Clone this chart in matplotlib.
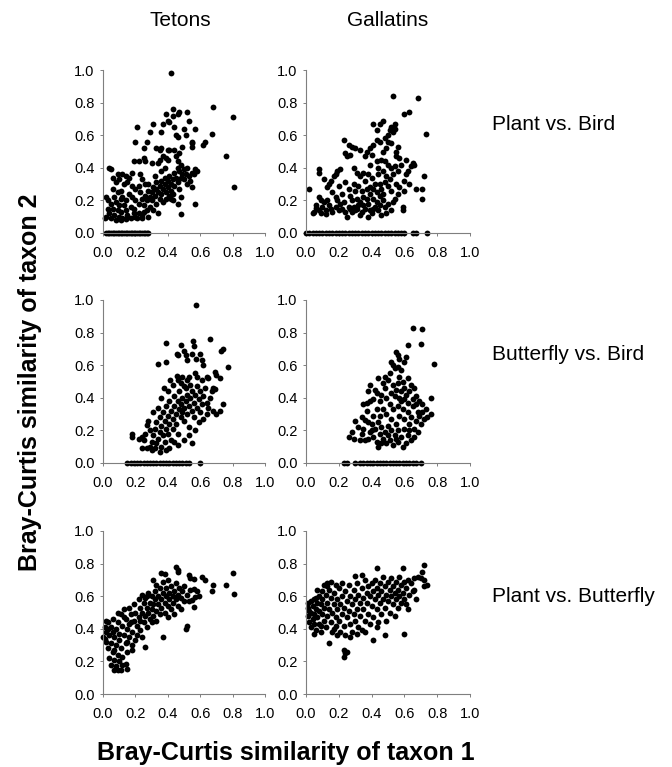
import matplotlib

matplotlib.use("Agg")
import matplotlib.pyplot as plt

plt.rcParams["font.family"] = ["Liberation Sans", "DejaVu Sans"]

COLUMNS = ["Tetons", "Gallatins"]
ROWS = ["Plant vs. Bird", "Butterfly vs. Bird", "Plant vs. Butterfly"]
TICKS = [0.0, 0.2, 0.4, 0.6, 0.8, 1.0]

# (taxon 1 similarity, taxon 2 similarity) pairs
TETONS_PLANT_BIRD = [
    (0.42, 0.98), (0.68, 0.77), (0.80, 0.71), (0.76, 0.475), (0.81, 0.28), (0.67, 0.61),
    (0.63, 0.56), (0.62, 0.54), (0.57, 0.64), (0.55, 0.55), (0.55, 0.53), (0.52, 0.74),
    (0.53, 0.69), (0.47, 0.74), (0.43, 0.76), (0.43, 0.72), (0.37, 0.67), (0.41, 0.68),
    (0.40, 0.69), (0.31, 0.67), (0.36, 0.62), (0.21, 0.65), (0.29, 0.62), (0.20, 0.56),
    (0.27, 0.56), (0.25, 0.52), (0.33, 0.52), (0.35, 0.51), (0.36, 0.52), (0.40, 0.51),
    (0.41, 0.51), (0.44, 0.65), (0.45, 0.60), (0.46, 0.59), (0.50, 0.64), (0.51, 0.60),
    (0.44, 0.51), (0.45, 0.47), (0.46, 0.44), (0.47, 0.49), (0.35, 0.45), (0.37, 0.47),
    (0.39, 0.46), (0.40, 0.45), (0.25, 0.46), (0.26, 0.44), (0.19, 0.44), (0.22, 0.44),
    (0.30, 0.43), (0.56, 0.36), (0.57, 0.39), (0.55, 0.37), (0.53, 0.35), (0.51, 0.36),
    (0.54, 0.32), (0.55, 0.28), (0.52, 0.30), (0.57, 0.18), (0.48, 0.22), (0.46, 0.18),
    (0.48, 0.115), (0.42, 0.21), (0.43, 0.20), (0.46, 0.73), (0.39, 0.73), (0.49, 0.53),
    (0.55, 0.56), (0.58, 0.38),
    (0.04, 0.40), (0.05, 0.39), (0.02, 0.22), (0.01, 0.09), (0.12, 0.36), (0.14, 0.35),
    (0.16, 0.34), (0.18, 0.37), (0.08, 0.31), (0.10, 0.33), (0.13, 0.30), (0.15, 0.31),
    (0.06, 0.27), (0.09, 0.25), (0.11, 0.26), (0.07, 0.22), (0.12, 0.22), (0.14, 0.20),
    (0.16, 0.24), (0.18, 0.22), (0.20, 0.20), (0.05, 0.18), (0.08, 0.19), (0.10, 0.17),
    (0.13, 0.17), (0.03, 0.15), (0.06, 0.15), (0.09, 0.14), (0.11, 0.13), (0.14, 0.14),
    (0.17, 0.16), (0.19, 0.15), (0.04, 0.12), (0.07, 0.11), (0.10, 0.10), (0.12, 0.09),
    (0.15, 0.11), (0.02, 0.10), (0.05, 0.09), (0.08, 0.08), (0.11, 0.08), (0.14, 0.085),
    (0.17, 0.09), (0.20, 0.10), (0.22, 0.12), (0.21, 0.09), (0.24, 0.09), (0.25, 0.13),
    (0.06, 0.34), (0.09, 0.36), (0.03, 0.20), (0.11, 0.21),
    (0.22, 0.18), (0.24, 0.21), (0.23, 0.25), (0.25, 0.17), (0.26, 0.23), (0.27, 0.20),
    (0.28, 0.26), (0.29, 0.22), (0.30, 0.25), (0.28, 0.30), (0.31, 0.28), (0.32, 0.23),
    (0.33, 0.27), (0.33, 0.31), (0.34, 0.25), (0.35, 0.29), (0.36, 0.24), (0.36, 0.32),
    (0.37, 0.27), (0.38, 0.30), (0.38, 0.34), (0.39, 0.25), (0.40, 0.32), (0.40, 0.28),
    (0.41, 0.35), (0.42, 0.30), (0.42, 0.26), (0.43, 0.33), (0.44, 0.37), (0.44, 0.29),
    (0.45, 0.34), (0.46, 0.31), (0.47, 0.38), (0.47, 0.27), (0.48, 0.34), (0.49, 0.36),
    (0.50, 0.33), (0.50, 0.39), (0.32, 0.35), (0.30, 0.20), (0.29, 0.16), (0.31, 0.14),
    (0.33, 0.18), (0.27, 0.14), (0.26, 0.30), (0.24, 0.33), (0.22, 0.29), (0.20, 0.27),
    (0.18, 0.29), (0.23, 0.36), (0.35, 0.21), (0.37, 0.19), (0.39, 0.21), (0.41, 0.23),
    (0.43, 0.24), (0.34, 0.12), (0.24, 0.11), (0.19, 0.12), (0.28, 0.10), (0.36, 0.38),
    (0.38, 0.40), (0.46, 0.40), (0.48, 0.42), (0.52, 0.40), (0.34, 0.43),
]
TETONS_PLANT_BIRD_ZERO = [
    0.02, 0.03, 0.04, 0.05, 0.06, 0.07, 0.08, 0.09, 0.10, 0.11, 0.12, 0.13, 0.14, 0.15,
    0.16, 0.17, 0.18, 0.19, 0.20, 0.21, 0.22, 0.23, 0.24, 0.25, 0.26, 0.27, 0.28,
]

GALLATINS_PLANT_BIRD = [
    (0.53, 0.84), (0.68, 0.83), (0.60, 0.73), (0.63, 0.74), (0.73, 0.61), (0.72, 0.35),
    (0.71, 0.27), (0.67, 0.27), (0.71, 0.21), (0.64, 0.41), (0.65, 0.43), (0.61, 0.45),
    (0.60, 0.32), (0.60, 0.26), (0.59, 0.16), (0.59, 0.14), (0.54, 0.67), (0.52, 0.65),
    (0.54, 0.64), (0.51, 0.63), (0.50, 0.60), (0.47, 0.69), (0.45, 0.67), (0.41, 0.67),
    (0.43, 0.63), (0.48, 0.58), (0.50, 0.56), (0.49, 0.52), (0.47, 0.50), (0.43, 0.57),
    (0.41, 0.54), (0.39, 0.52), (0.37, 0.50), (0.36, 0.47), (0.23, 0.57), (0.26, 0.54),
    (0.28, 0.53), (0.30, 0.52), (0.33, 0.51), (0.24, 0.49), (0.25, 0.47), (0.27, 0.48),
    (0.40, 0.48), (0.43, 0.44), (0.44, 0.40), (0.39, 0.42), (0.55, 0.47), (0.58, 0.42),
    (0.56, 0.38), (0.54, 0.41), (0.53, 0.36), (0.46, 0.45), (0.48, 0.44), (0.50, 0.42),
    (0.52, 0.40), (0.44, 0.36), (0.47, 0.38), (0.49, 0.35), (0.51, 0.33), (0.55, 0.30),
    (0.57, 0.28), (0.56, 0.24), (0.54, 0.21), (0.52, 0.26), (0.50, 0.29), (0.48, 0.31),
    (0.46, 0.27), (0.45, 0.23), (0.42, 0.30), (0.40, 0.34), (0.38, 0.36), (0.36, 0.32),
    (0.35, 0.37), (0.33, 0.35), (0.31, 0.37), (0.29, 0.40), (0.32, 0.29), (0.34, 0.26),
    (0.37, 0.27), (0.39, 0.24), (0.41, 0.21), (0.43, 0.19), (0.47, 0.20), (0.50, 0.18),
    (0.52, 0.14), (0.53, 0.19), (0.49, 0.12), (0.46, 0.11), (0.44, 0.14), (0.42, 0.16),
    (0.40, 0.12), (0.38, 0.18), (0.36, 0.15), (0.34, 0.13), (0.32, 0.17), (0.30, 0.14),
    (0.28, 0.20), (0.28, 0.13), (0.26, 0.16), (0.24, 0.13), (0.22, 0.15), (0.21, 0.18),
    (0.20, 0.14), (0.18, 0.16), (0.16, 0.13), (0.14, 0.17), (0.12, 0.14), (0.10, 0.16),
    (0.08, 0.14), (0.06, 0.17), (0.05, 0.13), (0.04, 0.125), (0.06, 0.155), (0.12, 0.115),
    (0.25, 0.10), (0.33, 0.11), (0.38, 0.10), (0.02, 0.27), (0.08, 0.39), (0.08, 0.37),
    (0.08, 0.22), (0.09, 0.20), (0.14, 0.30), (0.15, 0.32), (0.17, 0.35), (0.18, 0.36),
    (0.19, 0.38), (0.21, 0.39), (0.11, 0.33), (0.13, 0.28), (0.16, 0.25), (0.18, 0.22),
    (0.20, 0.29), (0.22, 0.24), (0.24, 0.31), (0.26, 0.27), (0.27, 0.23), (0.29, 0.30),
    (0.30, 0.26), (0.31, 0.21), (0.33, 0.19), (0.35, 0.22), (0.37, 0.21), (0.39, 0.28),
    (0.41, 0.27), (0.43, 0.25), (0.45, 0.30), (0.47, 0.24), (0.48, 0.16), (0.45, 0.17),
    (0.41, 0.15), (0.39, 0.14), (0.35, 0.17), (0.31, 0.15), (0.29, 0.16), (0.27, 0.15),
    (0.23, 0.19), (0.19, 0.20), (0.15, 0.15), (0.11, 0.19), (0.09, 0.12), (0.13, 0.20),
    (0.56, 0.53), (0.52, 0.55), (0.53, 0.62), (0.45, 0.56), (0.55, 0.50), (0.57, 0.46),
    (0.62, 0.38), (0.63, 0.30), (0.61, 0.36), (0.66, 0.42),
]
GALLATINS_PLANT_BIRD_ZERO = [
    0.00, 0.02, 0.04, 0.06, 0.08, 0.10, 0.12, 0.14, 0.16, 0.18, 0.20, 0.22, 0.24, 0.26,
    0.28, 0.30, 0.32, 0.34, 0.36, 0.38, 0.40, 0.42, 0.44, 0.46, 0.48, 0.50, 0.52, 0.54,
    0.56, 0.58, 0.60, 0.65, 0.67, 0.74,
]

TETONS_BUTTERFLY_BIRD = [
    (0.575, 0.97), (0.66, 0.76), (0.39, 0.735), (0.48, 0.725), (0.555, 0.75), (0.56, 0.715),
    (0.73, 0.69), (0.74, 0.70), (0.77, 0.59), (0.34, 0.61), (0.39, 0.62), (0.455, 0.67),
    (0.465, 0.66), (0.50, 0.69), (0.51, 0.66), (0.52, 0.63), (0.55, 0.67), (0.575, 0.64),
    (0.60, 0.67), (0.61, 0.63), (0.62, 0.60), (0.455, 0.535), (0.465, 0.51), (0.49, 0.53),
    (0.52, 0.51), (0.53, 0.53), (0.375, 0.46), (0.415, 0.51), (0.57, 0.55), (0.58, 0.53),
    (0.61, 0.51), (0.64, 0.53), (0.65, 0.52), (0.69, 0.56), (0.70, 0.54), (0.72, 0.52),
    (0.68, 0.46), (0.69, 0.455), (0.74, 0.36), (0.72, 0.32), (0.70, 0.30), (0.64, 0.37),
    (0.65, 0.34), (0.68, 0.32), (0.28, 0.255), (0.27, 0.235), (0.18, 0.18), (0.18, 0.16),
    (0.24, 0.16), (0.24, 0.09), (0.27, 0.095), (0.29, 0.10),
    (0.30, 0.13), (0.31, 0.17), (0.32, 0.21), (0.33, 0.12), (0.33, 0.25), (0.34, 0.15),
    (0.35, 0.19), (0.35, 0.28), (0.36, 0.10), (0.36, 0.23), (0.37, 0.17), (0.37, 0.31),
    (0.38, 0.26), (0.38, 0.13), (0.39, 0.21), (0.39, 0.35), (0.40, 0.29), (0.40, 0.18),
    (0.41, 0.24), (0.41, 0.38), (0.42, 0.32), (0.42, 0.14), (0.43, 0.27), (0.43, 0.21),
    (0.44, 0.35), (0.44, 0.41), (0.45, 0.30), (0.45, 0.24), (0.46, 0.38), (0.46, 0.18),
    (0.47, 0.33), (0.47, 0.44), (0.48, 0.28), (0.48, 0.36), (0.49, 0.31), (0.49, 0.40),
    (0.50, 0.34), (0.50, 0.26), (0.51, 0.38), (0.51, 0.46), (0.52, 0.30), (0.52, 0.42),
    (0.53, 0.35), (0.53, 0.22), (0.54, 0.40), (0.54, 0.48), (0.55, 0.32), (0.55, 0.44),
    (0.56, 0.37), (0.56, 0.28), (0.57, 0.42), (0.58, 0.34), (0.58, 0.47), (0.59, 0.39),
    (0.60, 0.31), (0.60, 0.44), (0.61, 0.36), (0.62, 0.41), (0.62, 0.27), (0.63, 0.46),
    (0.64, 0.30), (0.66, 0.40), (0.67, 0.44), (0.57, 0.20), (0.50, 0.14), (0.46, 0.11),
    (0.41, 0.09), (0.32, 0.09), (0.29, 0.20), (0.26, 0.18), (0.31, 0.31), (0.34, 0.34),
    (0.36, 0.40), (0.40, 0.44), (0.43, 0.48), (0.48, 0.49), (0.50, 0.47), (0.44, 0.13),
    (0.39, 0.08), (0.35, 0.07), (0.30, 0.08), (0.25, 0.14), (0.22, 0.15), (0.53, 0.17),
    (0.59, 0.25), (0.55, 0.12),
]
TETONS_BUTTERFLY_BIRD_ZERO = [
    0.15, 0.17, 0.19, 0.21, 0.23, 0.25, 0.27, 0.29, 0.31, 0.33, 0.35, 0.37, 0.39, 0.41,
    0.43, 0.45, 0.47, 0.49, 0.51, 0.53, 0.60,
]

GALLATINS_BUTTERFLY_BIRD = [
    (0.65, 0.83), (0.71, 0.82), (0.62, 0.725), (0.70, 0.73), (0.78, 0.61), (0.55, 0.68),
    (0.56, 0.665), (0.57, 0.64), (0.61, 0.65), (0.60, 0.62), (0.52, 0.62), (0.53, 0.60),
    (0.54, 0.58), (0.56, 0.59), (0.58, 0.57), (0.44, 0.52), (0.48, 0.53), (0.50, 0.51),
    (0.47, 0.49), (0.39, 0.48), (0.38, 0.44), (0.42, 0.45), (0.37, 0.37), (0.39, 0.38),
    (0.41, 0.39), (0.45, 0.38), (0.49, 0.40), (0.76, 0.40), (0.76, 0.30), (0.26, 0.16),
    (0.32, 0.22), (0.36, 0.265), (0.37, 0.32),
    (0.51, 0.55), (0.57, 0.53), (0.59, 0.50), (0.62, 0.52), (0.64, 0.48), (0.66, 0.46),
    (0.53, 0.48), (0.55, 0.45), (0.58, 0.44), (0.61, 0.42), (0.63, 0.44), (0.67, 0.41),
    (0.69, 0.38), (0.71, 0.36), (0.73, 0.33), (0.72, 0.27), (0.68, 0.31), (0.65, 0.35),
    (0.62, 0.37), (0.60, 0.39), (0.57, 0.40), (0.54, 0.41), (0.51, 0.36), (0.53, 0.33),
    (0.56, 0.35), (0.59, 0.33), (0.62, 0.31), (0.64, 0.28), (0.67, 0.26), (0.70, 0.24),
    (0.66, 0.21), (0.63, 0.24), (0.60, 0.27), (0.57, 0.29), (0.55, 0.24), (0.52, 0.27),
    (0.49, 0.30), (0.47, 0.33), (0.45, 0.29), (0.43, 0.33), (0.41, 0.29), (0.40, 0.24),
    (0.42, 0.21), (0.44, 0.25), (0.46, 0.22), (0.48, 0.19), (0.50, 0.23), (0.52, 0.20),
    (0.54, 0.17), (0.56, 0.20), (0.58, 0.16), (0.60, 0.21), (0.62, 0.17), (0.64, 0.14),
    (0.66, 0.16), (0.68, 0.19), (0.61, 0.12), (0.59, 0.10), (0.56, 0.13), (0.53, 0.11),
    (0.51, 0.14), (0.49, 0.12), (0.47, 0.15), (0.45, 0.18), (0.43, 0.13), (0.41, 0.16),
    (0.39, 0.19), (0.38, 0.15), (0.36, 0.14), (0.34, 0.18), (0.33, 0.14), (0.35, 0.21),
    (0.38, 0.25), (0.40, 0.20), (0.44, 0.10), (0.46, 0.12), (0.50, 0.17), (0.55, 0.15),
    (0.63, 0.20), (0.69, 0.29), (0.71, 0.31), (0.65, 0.39), (0.67, 0.36), (0.74, 0.28),
    (0.58, 0.38), (0.48, 0.46), (0.46, 0.42), (0.43, 0.43), (0.35, 0.36), (0.34, 0.28),
    (0.30, 0.26), (0.28, 0.19), (0.29, 0.15), (0.52, 0.43), (0.56, 0.49), (0.60, 0.46),
]
GALLATINS_BUTTERFLY_BIRD_ZERO = [
    0.23, 0.25, 0.30, 0.33, 0.35, 0.37, 0.39, 0.41, 0.43, 0.45, 0.47, 0.49, 0.51, 0.53,
    0.55, 0.57, 0.59, 0.61, 0.63, 0.65, 0.67, 0.70,
]

TETONS_PLANT_BUTTERFLY = [
    (0.45, 0.78), (0.46, 0.76), (0.46, 0.75), (0.36, 0.745), (0.38, 0.735), (0.31, 0.70),
    (0.53, 0.73), (0.54, 0.71), (0.56, 0.705), (0.61, 0.715), (0.63, 0.70), (0.68, 0.67),
    (0.67, 0.63), (0.76, 0.67), (0.80, 0.745), (0.81, 0.615), (0.56, 0.645), (0.57, 0.595),
    (0.55, 0.575), (0.56, 0.535), (0.52, 0.42), (0.51, 0.40), (0.37, 0.35), (0.26, 0.29),
    (0.065, 0.148), (0.14, 0.185), (0.15, 0.155), (0.15, 0.26), (0.18, 0.27), (0.00, 0.35),
    (0.01, 0.41), (0.02, 0.38), (0.02, 0.32), (0.03, 0.44), (0.03, 0.28), (0.04, 0.36),
    (0.04, 0.22), (0.05, 0.41), (0.05, 0.31), (0.05, 0.18), (0.06, 0.46), (0.06, 0.26),
    (0.07, 0.35), (0.07, 0.21), (0.08, 0.40), (0.08, 0.30), (0.08, 0.17), (0.09, 0.44),
    (0.09, 0.24), (0.10, 0.37), (0.10, 0.33), (0.10, 0.20), (0.11, 0.49), (0.11, 0.28),
    (0.12, 0.42), (0.12, 0.23), (0.13, 0.36), (0.13, 0.52), (0.14, 0.46), (0.14, 0.31),
    (0.15, 0.40), (0.16, 0.53), (0.16, 0.35), (0.17, 0.44), (0.17, 0.49), (0.18, 0.38),
    (0.19, 0.55), (0.19, 0.45), (0.20, 0.50), (0.20, 0.33), (0.21, 0.42), (0.22, 0.58),
    (0.22, 0.47), (0.23, 0.53), (0.23, 0.39), (0.24, 0.61), (0.24, 0.50), (0.25, 0.44),
    (0.25, 0.56), (0.26, 0.59), (0.26, 0.48), (0.27, 0.53), (0.27, 0.41), (0.28, 0.62),
    (0.28, 0.50), (0.29, 0.56), (0.29, 0.46), (0.30, 0.60), (0.30, 0.52), (0.31, 0.55),
    (0.31, 0.48), (0.32, 0.63), (0.32, 0.58), (0.33, 0.51), (0.33, 0.45), (0.34, 0.60),
    (0.34, 0.55), (0.35, 0.65), (0.35, 0.49), (0.36, 0.58), (0.36, 0.53), (0.37, 0.62),
    (0.38, 0.56), (0.38, 0.50), (0.39, 0.60), (0.39, 0.65), (0.40, 0.54), (0.40, 0.47),
    (0.41, 0.62), (0.41, 0.58), (0.42, 0.66), (0.42, 0.52), (0.43, 0.60), (0.43, 0.56),
    (0.44, 0.63), (0.44, 0.49), (0.45, 0.58), (0.45, 0.68), (0.46, 0.61), (0.46, 0.54),
    (0.47, 0.65), (0.48, 0.59), (0.48, 0.52), (0.49, 0.63), (0.50, 0.57), (0.50, 0.66),
    (0.52, 0.61), (0.53, 0.57), (0.54, 0.64), (0.58, 0.63), (0.59, 0.60), (0.12, 0.18),
    (0.09, 0.145), (0.07, 0.27), (0.03, 0.40), (0.01, 0.34), (0.15, 0.32), (0.18, 0.30),
    (0.21, 0.36), (0.24, 0.35), (0.11, 0.15), (0.02, 0.45), (0.06, 0.38), (0.09, 0.50),
    (0.13, 0.47), (0.16, 0.43), (0.30, 0.44), (0.27, 0.60), (0.33, 0.67), (0.37, 0.69),
    (0.40, 0.70), (0.23, 0.45),
]

GALLATINS_PLANT_BUTTERFLY = [
    (0.72, 0.79), (0.71, 0.75), (0.72, 0.70), (0.74, 0.67), (0.72, 0.66), (0.43, 0.775),
    (0.59, 0.77), (0.60, 0.37), (0.48, 0.36), (0.41, 0.33), (0.14, 0.31), (0.23, 0.27),
    (0.25, 0.255), (0.235, 0.25), (0.23, 0.225), (0.66, 0.64), (0.65, 0.63), (0.02, 0.51),
    (0.01, 0.53), (0.03, 0.57), (0.15, 0.69), (0.13, 0.68), (0.11, 0.67), (0.10, 0.63),
    (0.05, 0.37), (0.30, 0.725), (0.34, 0.73),
    (0.01, 0.48), (0.02, 0.44), (0.03, 0.50), (0.03, 0.41), (0.04, 0.54), (0.04, 0.46),
    (0.05, 0.58), (0.05, 0.49), (0.05, 0.43), (0.06, 0.52), (0.06, 0.39), (0.07, 0.56),
    (0.07, 0.47), (0.08, 0.60), (0.08, 0.51), (0.08, 0.43), (0.09, 0.55), (0.09, 0.38),
    (0.10, 0.49), (0.10, 0.58), (0.11, 0.45), (0.11, 0.53), (0.12, 0.61), (0.12, 0.41),
    (0.13, 0.56), (0.13, 0.48), (0.14, 0.64), (0.14, 0.52), (0.15, 0.44), (0.15, 0.59),
    (0.16, 0.50), (0.16, 0.38), (0.17, 0.62), (0.17, 0.55), (0.18, 0.47), (0.18, 0.42),
    (0.19, 0.58), (0.19, 0.52), (0.20, 0.65), (0.20, 0.45), (0.21, 0.55), (0.21, 0.38),
    (0.22, 0.60), (0.22, 0.49), (0.23, 0.42), (0.23, 0.53), (0.24, 0.63), (0.24, 0.36),
    (0.25, 0.57), (0.25, 0.47), (0.26, 0.51), (0.26, 0.67), (0.27, 0.60), (0.27, 0.43),
    (0.28, 0.55), (0.28, 0.38), (0.29, 0.64), (0.29, 0.49), (0.30, 0.58), (0.30, 0.45),
    (0.31, 0.68), (0.31, 0.52), (0.32, 0.61), (0.32, 0.41), (0.33, 0.56), (0.33, 0.48),
    (0.34, 0.65), (0.34, 0.39), (0.35, 0.59), (0.35, 0.52), (0.36, 0.70), (0.36, 0.45),
    (0.37, 0.62), (0.37, 0.56), (0.38, 0.66), (0.38, 0.49), (0.39, 0.60), (0.39, 0.43),
    (0.40, 0.68), (0.40, 0.54), (0.41, 0.63), (0.41, 0.47), (0.42, 0.58), (0.42, 0.70),
    (0.43, 0.52), (0.43, 0.65), (0.44, 0.61), (0.44, 0.44), (0.45, 0.68), (0.45, 0.56),
    (0.46, 0.63), (0.46, 0.49), (0.47, 0.58), (0.47, 0.72), (0.48, 0.66), (0.48, 0.53),
    (0.49, 0.61), (0.49, 0.45), (0.50, 0.69), (0.50, 0.57), (0.51, 0.64), (0.51, 0.50),
    (0.52, 0.60), (0.52, 0.71), (0.53, 0.66), (0.53, 0.55), (0.54, 0.62), (0.54, 0.48),
    (0.55, 0.69), (0.55, 0.58), (0.56, 0.64), (0.56, 0.53), (0.57, 0.60), (0.57, 0.72),
    (0.58, 0.67), (0.58, 0.56), (0.59, 0.62), (0.60, 0.69), (0.60, 0.58), (0.61, 0.65),
    (0.61, 0.55), (0.62, 0.70), (0.63, 0.61), (0.64, 0.68), (0.66, 0.71), (0.68, 0.72),
    (0.70, 0.71), (0.67, 0.58), (0.62, 0.52), (0.43, 0.41), (0.31, 0.37), (0.19, 0.36),
    (0.09, 0.42), (0.07, 0.64), (0.13, 0.66), (0.18, 0.67), (0.22, 0.68), (0.17, 0.40),
    (0.27, 0.35), (0.36, 0.38), (0.06, 0.59), (0.01, 0.56),
]

PANELS = [
    [(TETONS_PLANT_BIRD, TETONS_PLANT_BIRD_ZERO),
     (GALLATINS_PLANT_BIRD, GALLATINS_PLANT_BIRD_ZERO)],
    [(TETONS_BUTTERFLY_BIRD, TETONS_BUTTERFLY_BIRD_ZERO),
     (GALLATINS_BUTTERFLY_BIRD, GALLATINS_BUTTERFLY_BIRD_ZERO)],
    [(TETONS_PLANT_BUTTERFLY, []),
     (GALLATINS_PLANT_BUTTERFLY, [])],
]

W, H = 672, 767
COL_X = [103, 306]          # left edge of each column, px
COL_W = [162, 164]
ROW_TOP = [70, 300, 531]    # top edge of each row, px
ROW_H = 163


def panel(fig, r, c, pts, zeros):
    ax = fig.add_axes([COL_X[c] / W, 1 - (ROW_TOP[r] + ROW_H) / H,
                       COL_W[c] / W, ROW_H / H])
    xs = [p[0] for p in pts] + list(zeros)
    ys = [p[1] for p in pts] + [0.0] * len(zeros)
    ax.plot(xs, ys, "o", color="black", markersize=4.2, markeredgewidth=0,
            clip_on=False)
    ax.set_xlim(0, 1)
    ax.set_ylim(0, 1)
    ax.set_xticks(TICKS)
    ax.set_yticks(TICKS)
    ax.set_xticklabels([f"{t:.1f}" for t in TICKS])
    ax.set_yticklabels([f"{t:.1f}" for t in TICKS])
    for s in ("top", "right"):
        ax.spines[s].set_visible(False)
    for s in ("left", "bottom"):
        ax.spines[s].set_color("#7f7f7f")
        ax.spines[s].set_linewidth(0.8)
    ax.tick_params(axis="x", length=2.5, width=0.7, color="#7f7f7f",
                   pad=7, labelsize=10.5)
    ax.tick_params(axis="y", length=2.5, width=0.7, color="#7f7f7f",
                   pad=3.5, labelsize=10.5)
    return ax


fig = plt.figure(figsize=(W / 100, H / 100), dpi=100)
for r in range(3):
    for c in range(2):
        pts, zeros = PANELS[r][c]
        panel(fig, r, c, pts, zeros)

fig.text(180 / W, 1 - 21 / H, COLUMNS[0], ha="center", va="center", fontsize=15)
fig.text(388 / W, 1 - 21 / H, COLUMNS[1], ha="center", va="center", fontsize=15)
for r, y in enumerate([125, 355, 596]):
    fig.text(492 / W, 1 - y / H, ROWS[r], ha="left", va="center", fontsize=15)

fig.text(286 / W, 1 - 753 / H, "Bray-Curtis similarity of taxon 1",
         ha="center", va="center", fontsize=18, fontweight="bold")
fig.text(30 / W, 1 - 382 / H, "Bray-Curtis similarity of taxon 2",
         ha="center", va="center", rotation=90, fontsize=18, fontweight="bold")

fig.savefig("out.png", dpi=100)
plt.close(fig)
